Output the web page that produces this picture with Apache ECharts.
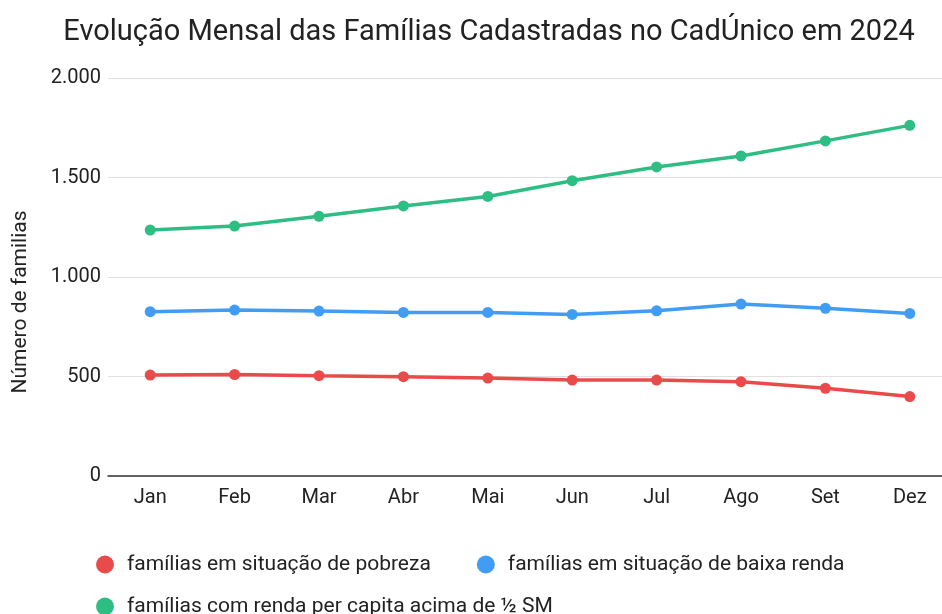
<!DOCTYPE html>
<html>
<head>
<meta charset="utf-8">
<script src="https://cdn.jsdelivr.net/npm/echarts@6/dist/echarts.min.js"></script>
<style>html,body{margin:0;padding:0;background:#fff;overflow:hidden;}#c{width:960px;height:614px;}</style>
</head>
<body>
<div id="c"></div>
<script>
const months = ['Jan','Feb','Mar','Abr','Mai','Jun','Jul','Ago','Set','Dez'];
const pobreza = [507, 510, 504, 499, 492, 482, 482, 474, 441, 399];
const baixaRenda = [826, 834, 829, 822, 822, 812, 830, 864, 843, 817];
const acimaMeioSM = [1236, 1256, 1305, 1357, 1405, 1484, 1553, 1608, 1684, 1762];
const yTicks = [0, 500, 1000, 1500, 2000];
const names = ['famílias em situação de pobreza','famílias em situação de baixa renda','famílias com renda per capita acima de ½ SM'];
const colors = ['#E94B4B','#419CF3','#2EBD83'];

const chart = echarts.init(document.getElementById('c'));
const mk = (name, data, color) => ({
  name, type:'line', data, color,
  symbol:'circle', symbolSize:11,
  lineStyle:{width:3.5, color}, itemStyle:{color}
});
const fmt = v => v >= 1000 ? String(v).replace(/\B(?=(\d{3})+(?!\d))/g, '.') : String(v);
chart.setOption({
  backgroundColor:'#fff',
  title:{text:'Evolução Mensal das Famílias Cadastradas no CadÚnico em 2024', left:484, textAlign:'center', top:13,
    textStyle:{fontFamily:'Roboto', fontSize:29, fontWeight:'normal', color:'#222'}},
  legend:[
    {data:[names[0], names[1]], left:91, top:549, itemGap:46, icon:'circle', itemWidth:18, itemHeight:18,
     textStyle:{fontFamily:'Roboto', fontSize:21, color:'#222', padding:[0,0,0,8]}},
    {data:[names[2]], left:91, top:591, icon:'circle', itemWidth:18, itemHeight:18,
     textStyle:{fontFamily:'Roboto', fontSize:21, color:'#222', padding:[0,0,0,8]}}
  ],
  grid:{left:108, width:844, top:78, bottom:138, containLabel:false},
  xAxis:{type:'category', data:months, boundaryGap:true,
    axisLine:{lineStyle:{color:'#333', width:1.5}}, axisTick:{show:false},
    axisLabel:{fontFamily:'Roboto', fontSize:20, color:'#222', margin:12}},
  yAxis:{type:'value', min:yTicks[0], max:yTicks[yTicks.length-1], interval:500,
    name:'Número de familias', nameLocation:'middle', nameGap:77,
    nameTextStyle:{fontFamily:'Roboto', fontSize:21, color:'#222', padding:[0,50,0,0]},
    axisLabel:{fontFamily:'Roboto', fontSize:20, color:'#222', margin:7, formatter:fmt},
    splitLine:{lineStyle:{color:'#e0e0e0', width:1}}, axisLine:{show:false}, axisTick:{show:false}},
  series:[mk(names[0], pobreza, colors[0]), mk(names[1], baixaRenda, colors[1]), mk(names[2], acimaMeioSM, colors[2])]
});
</script>
</body>
</html>
